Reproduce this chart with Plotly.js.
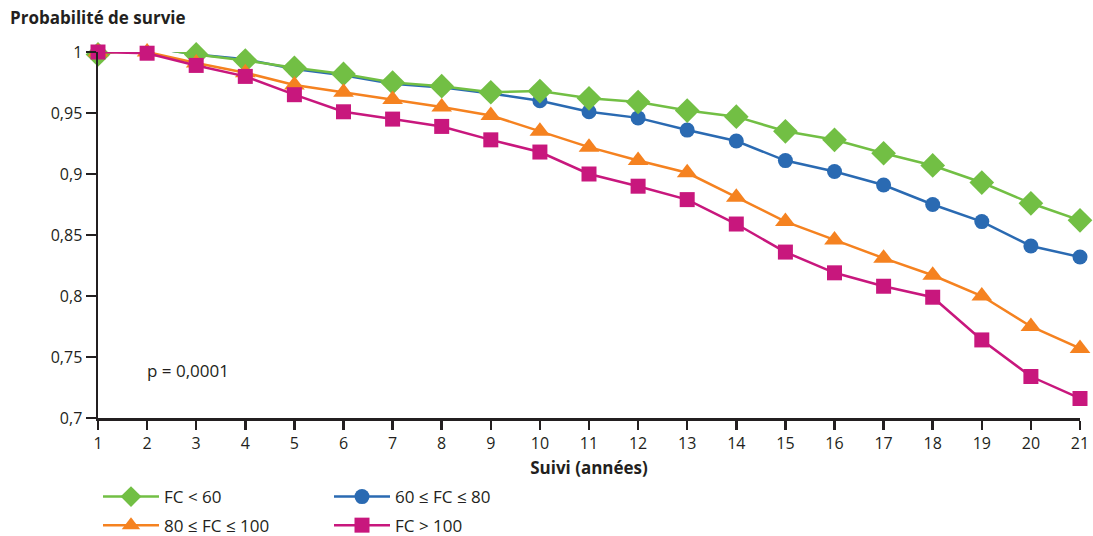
<!DOCTYPE html>
<html><head><meta charset="utf-8">
<script src="https://cdn.plot.ly/plotly-3.0.1.min.js"></script>
<style>html,body{margin:0;padding:0;background:#fff}#chart{width:1093px;height:536px}</style>
</head><body><div id="chart"></div>
<script>
const years = [1,2,3,4,5,6,7,8,9,10,11,12,13,14,15,16,17,18,19,20,21];
const fcLt60 = [0.998,1.004,0.998,0.993,0.987,0.982,0.975,0.972,0.967,0.968,0.962,0.959,0.952,0.947,0.935,0.928,0.917,0.907,0.893,0.876,0.862];
const fc60to80 = [1.0,1.004,0.998,0.994,0.986,0.981,0.974,0.971,0.966,0.96,0.951,0.946,0.936,0.927,0.911,0.902,0.891,0.875,0.861,0.841,0.832];
const fc80to100 = [1.0,1.0,0.991,0.983,0.973,0.967,0.961,0.955,0.948,0.935,0.922,0.911,0.901,0.881,0.861,0.846,0.831,0.817,0.8,0.775,0.757];
const fcGt100 = [1.0,0.999,0.989,0.98,0.965,0.951,0.945,0.939,0.928,0.918,0.9,0.89,0.879,0.859,0.836,0.819,0.808,0.799,0.764,0.734,0.716];
const seriesNames = ['FC < 60','60 ≤ FC ≤ 80','80 ≤ FC ≤ 100','FC > 100'];
const yTickVals = [0.7,0.75,0.8,0.85,0.9,0.95,1];
const yTickText = ['0,7','0,75','0,8','0,85','0,9','0,95','1'];

const ink = '#231f20';
const fam = '"Open Sans", "Noto Sans", sans-serif';

function tr(y, name, color, symbol, size, legend){
  return {x: years, y: y, name: name, type:'scatter', mode:'lines+markers',
    line:{color:color, width:2.5}, marker:{color:color, symbol:symbol, size:size},
    cliponaxis:false, legend: legend};
}
const data = [
  tr(fc60to80, seriesNames[1], '#2a6ab2', 'circle', 15, 'legend'),
  tr(fcLt60, seriesNames[0], '#72bf44', 'diamond', 19, 'legend'),
  tr(fc80to100, seriesNames[2], '#f58220', 'triangle-up', 18, 'legend2'),
  tr(fcGt100, seriesNames[3], '#c8177d', 'square', 15, 'legend2'),
];
const legendCommon = {orientation:'h', xref:'paper', yref:'paper', xanchor:'left', yanchor:'middle',
  itemwidth:56, entrywidth:160, entrywidthmode:'pixels', font:{size:17, color:ink, family:fam}, bgcolor:'rgba(0,0,0,0)'};
const layout = {
  width:1093, height:536,
  margin:{l:98, r:13, t:52, b:118, autoexpand:false},
  paper_bgcolor:'#fff', plot_bgcolor:'#fff',
  font: {size:16, family:fam, color:ink},
  showlegend:true,
  xaxis:{range:[1,21], tickvals:years, showgrid:false, zeroline:false,
    showline:true, linecolor:ink, linewidth:2.5, ticks:'outside', ticklen:9, tickwidth:2.5, tickcolor:ink,
    tickfont:{size:16, color:ink}, fixedrange:true,
    title:{text:'<b>Suivi (années)</b>', font:{size:17, color:ink}, standoff:10}},
  yaxis:{range:[0.7,1], tickvals:yTickVals, ticktext:yTickText, showgrid:false, zeroline:false,
    showline:true, linecolor:ink, linewidth:2.5, ticks:'outside', ticklen:10, tickwidth:2.5, tickcolor:ink,
    tickfont:{size:16, color:ink}, fixedrange:true},
  legend:Object.assign({}, legendCommon, {x:0.0, y:-0.216, traceorder:'reversed'}),
  legend2:Object.assign({}, legendCommon, {x:0.0, y:-0.294, traceorder:'normal'}),
  annotations:[
    {text:'<b>Probabilité de survie</b>', xref:'paper', yref:'paper', x:-0.092, y:1.093, xanchor:'left', yanchor:'middle', showarrow:false, font:{size:17, color:ink}},
    {text:'p = 0,0001', xref:'x', yref:'y', x:1.95, y:0.739, xanchor:'left', yanchor:'middle', showarrow:false, font:{size:17, color:ink}}
  ]
};
Plotly.newPlot('chart', data, layout, {displayModeBar:false, staticPlot:true});
</script></body></html>
